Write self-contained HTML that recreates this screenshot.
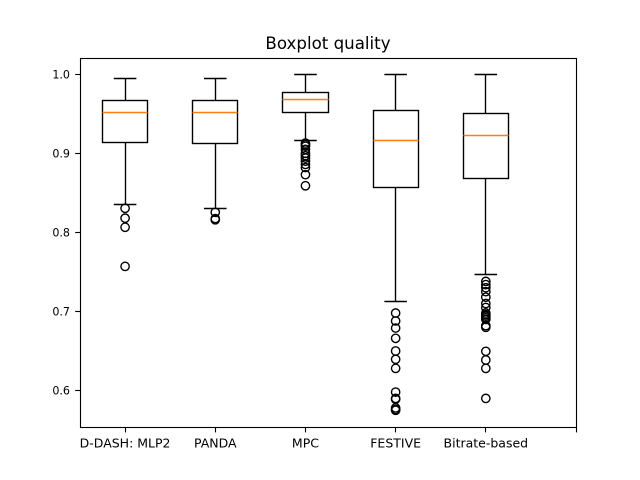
<!DOCTYPE html>
<html>
<head>
<meta charset="utf-8">
<title>Boxplot quality</title>
<style>
html,body{margin:0;padding:0;background:#fff;width:640px;height:480px;overflow:hidden}
svg{display:block}
text{font-family:"DejaVu Sans","Liberation Sans",sans-serif;fill:#000}
</style>
</head>
<body>
<svg id="chart" width="640" height="480" viewBox="0 0 640 480" xmlns="http://www.w3.org/2000/svg">
<rect width="640" height="480" fill="#fff"/>
<text x="328" y="49" font-size="16.67" text-anchor="middle">Boxplot quality</text>
</svg>
<script>
const categories = ['D-DASH: MLP2', 'PANDA', 'MPC', 'FESTIVE', 'Bitrate-based'];
const xTicks = [1, 2, 3, 4, 5, 6];
const yTicks = [0.6, 0.7, 0.8, 0.9, 1.0];
const yTickLabels = ['0.6', '0.7', '0.8', '0.9', '1.0'];
const whiskerHigh = [0.995, 0.995, 1.0, 1.0, 1.0];
const q3 = [0.967, 0.967, 0.977, 0.954, 0.951];
const medians = [0.952, 0.952, 0.968, 0.916, 0.923];
const q1 = [0.914, 0.912, 0.952, 0.857, 0.868];
const whiskerLow = [0.8355, 0.8305, 0.9165, 0.713, 0.747];
const fliersDDash = [0.8305, 0.818, 0.8065, 0.757];
const fliersPanda = [0.8254, 0.8175, 0.816];
const fliersMpc = [0.913, 0.911, 0.909, 0.905, 0.9, 0.897, 0.894, 0.89, 0.886, 0.882, 0.873, 0.859];
const fliersFestive = [0.698, 0.688, 0.679, 0.666, 0.65, 0.6395, 0.628, 0.598, 0.59, 0.589, 0.578, 0.576, 0.575];
const fliersBitrate = [0.738, 0.734, 0.73, 0.725, 0.718, 0.71, 0.705, 0.698, 0.696, 0.694, 0.692, 0.69, 0.682, 0.68, 0.6496, 0.6386, 0.628, 0.59];
const fliers = [fliersDDash, fliersPanda, fliersMpc, fliersFestive, fliersBitrate];

const NS = 'http://www.w3.org/2000/svg';
const svg = document.getElementById('chart');
const plotLeft = 80, plotRight = 576, plotTop = 57.6, plotBottom = 427.2;
const xMin = 0.5, xMax = 6, yMin = 0.5536, yMax = 1.0211;
const boxWidth = 0.5, capWidth = 0.25;

function xScale(v) { return plotLeft + (v - xMin) / (xMax - xMin) * (plotRight - plotLeft); }
function yScale(v) { return plotBottom - (v - yMin) / (yMax - yMin) * (plotBottom - plotTop); }
function snap(p) { return Math.round(p - 0.5) + 0.5; }

function addLine(parent, name, x1, y1, x2, y2, stroke, width) {
  const el = document.createElementNS(NS, 'line');
  
  
  el.setAttribute('x1', x1);
  el.setAttribute('y1', y1);
  el.setAttribute('x2', x2);
  el.setAttribute('y2', y2);
  el.setAttribute('stroke', stroke);
  el.setAttribute('stroke-width', width);
  parent.appendChild(el);
  return el;
}

function addText(parent, name, x, y, content, anchor, size) {
  const el = document.createElementNS(NS, 'text');
  
  
  el.setAttribute('x', x);
  el.setAttribute('y', y);
  el.setAttribute('font-size', size);
  el.setAttribute('text-anchor', anchor);
  el.textContent = content;
  parent.appendChild(el);
  return el;
}

categories.forEach(function (cat, i) {
  const pos = i + 1;
  const g = document.createElementNS(NS, 'g');
  
  
  svg.appendChild(g);

  const cx = snap(xScale(pos));
  const left = snap(xScale(pos - boxWidth / 2));
  const right = snap(xScale(pos + boxWidth / 2));
  const capL = xScale(pos - capWidth / 2);
  const capR = xScale(pos + capWidth / 2);
  const yQ3 = snap(yScale(q3[i]));
  const yQ1 = snap(yScale(q1[i]));
  const yHigh = snap(yScale(whiskerHigh[i]));
  const yLow = snap(yScale(whiskerLow[i]));
  const yMed = snap(yScale(medians[i]));

  const box = document.createElementNS(NS, 'rect');
  
  
  box.setAttribute('x', left);
  box.setAttribute('y', yQ3);
  box.setAttribute('width', right - left);
  box.setAttribute('height', yQ1 - yQ3);
  box.setAttribute('fill', 'none');
  box.setAttribute('stroke', '#000');
  box.setAttribute('stroke-width', '1.39');
  g.appendChild(box);

  addLine(g, 'upper-whisker', cx, yQ3, cx, yHigh, '#000', 1.39);
  addLine(g, 'lower-whisker', cx, yQ1, cx, yLow, '#000', 1.39);
  addLine(g, 'upper-cap', capL, yHigh, capR, yHigh, '#000', 1.39);
  addLine(g, 'lower-cap', capL, yLow, capR, yLow, '#000', 1.39);
  addLine(g, 'median-line', left, yMed, right, yMed, '#ff7f0e', 1.39);

  fliers[i].forEach(function (v) {
    const c = document.createElementNS(NS, 'circle');
    
    
    c.setAttribute('cx', xScale(pos));
    c.setAttribute('cy', yScale(v));
    c.setAttribute('r', '4.17');
    c.setAttribute('fill', 'none');
    c.setAttribute('stroke', '#000');
    c.setAttribute('stroke-width', '1.39');
    g.appendChild(c);
  });
});

const frame = document.createElementNS(NS, 'rect');


frame.setAttribute('x', 80.5);
frame.setAttribute('y', 58.5);
frame.setAttribute('width', 496);
frame.setAttribute('height', 369);
frame.setAttribute('fill', 'none');
frame.setAttribute('stroke', '#000');
frame.setAttribute('stroke-width', '1.11');
svg.appendChild(frame);

const xAxis = document.createElementNS(NS, 'g');


svg.appendChild(xAxis);
xTicks.forEach(function (t, i) {
  const x = snap(xScale(t));
  addLine(xAxis, 'x-tick', x, 427.5, x, 432.4, '#000', 1.11);
  if (categories[i]) {
    addText(xAxis, 'x-tick-label', xScale(t), 447.4, categories[i], 'middle', '12.5');
  }
});

const yAxis = document.createElementNS(NS, 'g');


svg.appendChild(yAxis);
yTicks.forEach(function (t, i) {
  const y = snap(yScale(t));
  addLine(yAxis, 'y-tick', 75.2, y, 80.5, y, '#000', 1.11);
  addText(yAxis, 'y-tick-label', 70, y + 3.9, yTickLabels[i], 'end', '11.11');
});
</script>
</body>
</html>
